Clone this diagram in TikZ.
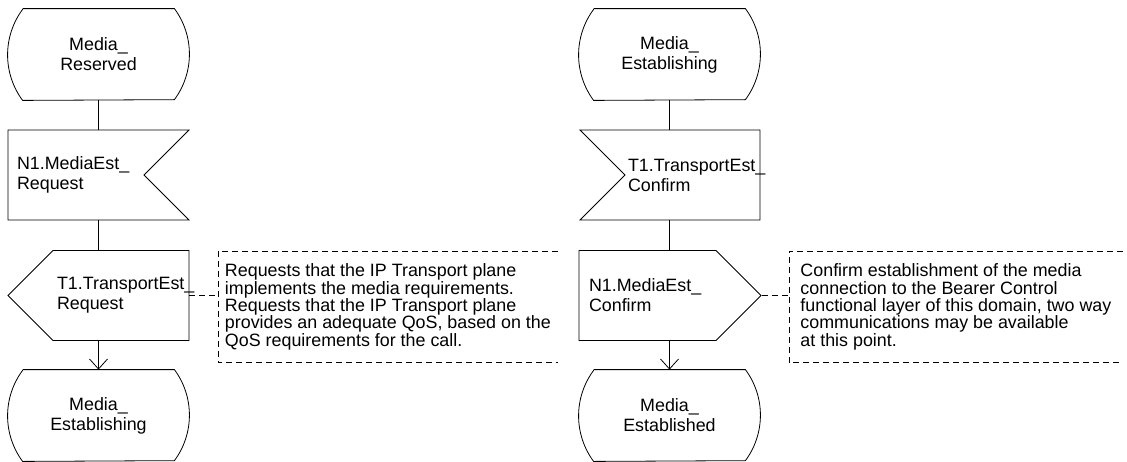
\documentclass[tikz,border=0pt]{standalone}
\usepackage{fontspec}
\setmainfont{Liberation Sans}
\usetikzlibrary{shapes.symbols,arrows.meta}
\begin{document}
\begin{tikzpicture}[x=0.75pt,y=-0.75pt,line width=0.6pt]
  \tikzset{sdl/.style={inner ysep=0pt,font=\fontsize{13.4}{15}\selectfont},
    state/.style={sdl,rectangle,minimum width=135.75pt,minimum height=68.25pt,inner xsep=0pt,align=center},
    sigin/.style={sdl,draw,signal,signal pointer angle=90,signal to=nowhere,minimum height=67.5pt,align=left},
    sigout/.style={sdl,draw,signal,signal pointer angle=90,minimum height=67.5pt,align=left},
    note/.style={anchor=north west,inner xsep=4pt,inner ysep=0pt,minimum height=83.25pt,align=left,font=\fontsize{13.4}{13.1}\selectfont},
    notelink/.style={dash pattern=on 4.5pt off 3pt},
    arr/.style={-{Straight Barb[length=7.5pt,width=13.5pt]}}}
  \useasboundingbox (0,0) rectangle (1127,461);
  \node[state] (s1) at (98.5,54.5) {Media\_\\Reserved};
  \node[sigin,signal from=east,text width=88.5pt,inner xsep=6.75pt] (i1) at (76,175) {N1.MediaEst\_\\Request};
  \node[sigout,signal to=west,text width=96pt,inner xsep=3pt] (o1) at (121,295.5) {T1.TransportEst\_\\Request};
  \node[state] (s2) at (98.5,415.5) {Media\_\\Establishing};
  \node[note,minimum width=254.25pt] (c1) at (218,251) {Requests that the IP Transport plane\\implements the media requirements.\\Requests that the IP Transport plane\\provides an adequate QoS, based on the\\QoS requirements for the call.};
  \node[state] (s3) at (669.5,54.5) {Media\_\\Establishing};
  \node[sigin,signal from=west,text width=96.75pt,inner xsep=2.25pt] (i2) at (692.5,175) {T1.TransportEst\_\\Confirm};
  \node[sigout,signal to=east,text width=87.75pt,inner xsep=7.5pt] (o2) at (647.5,295.5) {N1.MediaEst\_\\Confirm};
  \node[state] (s4) at (669.5,415.5) {Media\_\\Established};
  \node[note,minimum width=249.75pt] (c2) at (789,251) {Confirm establishment of the media\\connection to the Bearer Control\\functional layer of this domain, two way\\communications may be available\\at this point.};
  % state outlines
  \foreach \s in {s1,s2,s3,s4}
    \draw ([xshift=11.25pt]\s.north west) -- ([xshift=-11.25pt]\s.north east)
      arc[start angle=36.5,end angle=-36.5,radius=57.4pt]
      -- ([xshift=11.25pt]\s.south west)
      arc[start angle=216.5,end angle=143.5,radius=57.4pt];
  \draw (s1.south) -- (s1.south |- i1.north);
  \draw (s1.south |- i1.south) -- (s1.south |- o1.north);
  \draw[arr] (s1.south |- o1.south) -- (s2.north);
  \draw (s3.south) -- (s3.south |- i2.north);
  \draw (s3.south |- i2.south) -- (s3.south |- o2.north);
  \draw[arr] (s3.south |- o2.south) -- (s4.north);
  \draw[notelink] (c1.north east) -- (c1.north west) -- (c1.south west) -- (c1.south east);
  \draw[notelink] (o1.east) -- (o1.east -| c1.west);
  \draw[notelink] (c2.north east) -- (c2.north west) -- (c2.south west) -- (c2.south east);
  \draw[notelink] (o2.east) -- (o2.east -| c2.west);
\end{tikzpicture}
\end{document}
